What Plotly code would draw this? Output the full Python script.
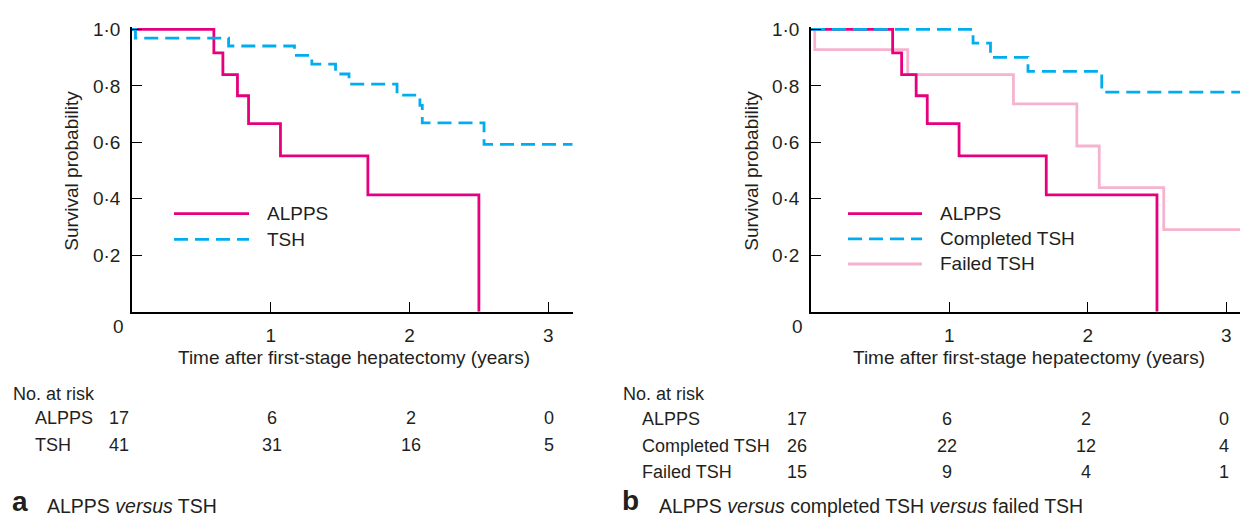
import plotly.graph_objects as go

W, H = 1240, 519

# ---------------- data ----------------
# Panel a
alpps_t = [0, 0.59, 0.655, 0.76, 0.84, 1.07, 1.70, 2.50]
alpps_s = [1.0, 0.917, 0.84, 0.765, 0.666, 0.552, 0.414, 0.0]

tsh_t = [0, 0.025, 0.696, 1.171, 1.296, 1.467, 1.564, 1.91, 2.075, 2.092, 2.537, 3.176]
tsh_s = [1.0, 0.969, 0.941, 0.908, 0.877, 0.842, 0.806, 0.767, 0.731, 0.669, 0.593, 0.593]

# Panel b
comp_t = [0, 1.171, 1.297, 1.568, 2.101, 3.10]
comp_s = [1.0, 0.951, 0.901, 0.851, 0.778, 0.778]

fail_t = [0, 0.027, 0.699, 1.463, 1.921, 2.083, 2.549, 3.10]
fail_s = [1.0, 0.928, 0.84, 0.736, 0.587, 0.44, 0.291, 0.291]

x_ticks = [1, 2, 3]
y_ticks = [0.2, 0.4, 0.6, 0.8, 1.0]
y_ticktext = ["0·2", "0·4", "0·6", "0·8", "1·0"]

risk_times = [0, 1, 2, 3]
risk_a_labels = ["ALPPS", "TSH"]
risk_a = [[17, 6, 2, 0], [41, 31, 16, 5]]
risk_b_labels = ["ALPPS", "Completed TSH", "Failed TSH"]
risk_b = [[17, 6, 2, 0], [26, 22, 12, 4], [15, 9, 4, 1]]

# ---------------- style ----------------
MAGENTA = "#E6007E"
CYAN = "#00AEEF"
PINK = "#F6B3D0"
TXT = "#231F20"
FONT = "Liberation Sans, Arial, sans-serif"
FS = 19
FS_TAB = 18
LW = 2.8
DASH = "14px,7px"


def px(x):
    return x / W


def py(y):
    return 1 - y / H


# plot geometry (pixels)
Y0_PX, Y_TOP_PX = 309.0, 19.8
A_L, A_R = 132.0, 572.7
B_L, B_R = 811.0, 1240.0

fig = go.Figure()


def kmtrace(t, s, color, dash, xa, ya, name):
    fig.add_trace(go.Scatter(
        x=t, y=s, mode="lines", line=dict(color=color, width=LW, dash=dash, shape="hv"),
        xaxis=xa, yaxis=ya, name=name, showlegend=False, hoverinfo="skip"))


kmtrace(alpps_t, alpps_s, MAGENTA, "solid", "x", "y", "ALPPS")
kmtrace(tsh_t, tsh_s, CYAN, DASH, "x", "y", "TSH")
kmtrace(fail_t, fail_s, PINK, "solid", "x2", "y2", "Failed TSH")
kmtrace(alpps_t, alpps_s, MAGENTA, "solid", "x2", "y2", "ALPPS")
kmtrace(comp_t, comp_s, CYAN, DASH, "x2", "y2", "Completed TSH")

axis_common = dict(showline=True, linecolor="black", linewidth=1.5, showgrid=False,
                   zeroline=False, ticks="inside", ticklen=10, tickwidth=1.3, tickcolor="black",
                   tickfont=dict(family=FONT, size=FS, color=TXT), ticklabelstandoff=6)

ydom = [py(Y0_PX), py(Y_TOP_PX)]
fig.update_layout(
    width=W, height=H, autosize=False,
    margin=dict(l=0, r=0, t=0, b=0),
    paper_bgcolor="white", plot_bgcolor="white",
    font=dict(family=FONT, size=FS, color=TXT),
    xaxis=dict(domain=[px(A_L), px(A_R)], range=[0, 3.176], tickvals=x_ticks,
               anchor="y", **axis_common),
    yaxis=dict(domain=ydom, range=[0, 1.01], tickvals=y_ticks, ticktext=y_ticktext,
               anchor="x", **axis_common),
    xaxis2=dict(domain=[px(B_L), px(B_R)], range=[0, 3.10], tickvals=x_ticks,
                anchor="y2", **axis_common),
    yaxis2=dict(domain=ydom, range=[0, 1.01], tickvals=y_ticks, ticktext=y_ticktext,
                anchor="x2", **axis_common),
)

ann = []
shapes = []


def text(x, y, s, size=FS, xanchor="center", yanchor="middle", **kw):
    ann.append(dict(x=px(x), y=py(y), xref="paper", yref="paper", text=s, showarrow=False,
                    xanchor=xanchor, yanchor=yanchor,
                    font=dict(family=FONT, size=size, color=TXT), **kw))


# "0" origin labels
text(118.5, 324, "0")
text(797.0, 324, "0")

# axis titles
text((A_L + A_R) / 2 + 2, 355, "Time after first-stage hepatectomy (years)")
text((B_L + B_R) / 2 + 3, 355, "Time after first-stage hepatectomy (years)")
text(72, 166, "Survival probability", textangle=-90)
text(752, 166, "Survival probability", textangle=-90)


# legends (drawn as sample lines + labels)
def legend_item(x0, x1, y, color, dash, label):
    shapes.append(dict(type="line", xref="paper", yref="paper", x0=px(x0), x1=px(x1),
                       y0=py(y), y1=py(y), line=dict(color=color, width=LW, dash=dash)))
    text(x1 + 16, y, label, xanchor="left")


legend_item(174, 249, 209.5, MAGENTA, "solid", "ALPPS")
legend_item(174, 249, 235.5, CYAN, DASH, "TSH")
legend_item(848, 922, 209.5, MAGENTA, "solid", "ALPPS")
legend_item(848, 922, 235, CYAN, DASH, "Completed TSH")
legend_item(848, 922, 260.5, PINK, "solid", "Failed TSH")

# number at risk tables
text(11, 392, "No. at risk", xanchor="left", size=FS_TAB)
for i, (lab, row) in enumerate(zip(risk_a_labels, risk_a)):
    yy = 417 + i * 26.5
    text(32.5, yy, lab, xanchor="left", size=FS_TAB)
    for t, v in zip(risk_times, row):
        ann.append(dict(x=t, y=py(yy), xref="x", yref="paper", text=str(v), showarrow=False,
                        xanchor="center", yanchor="middle", xshift=(-13 if t == 0 else 1),
                        font=dict(family=FONT, size=FS_TAB, color=TXT)))

text(620.5, 392, "No. at risk", xanchor="left", size=FS_TAB)
for i, (lab, row) in enumerate(zip(risk_b_labels, risk_b)):
    yy = 418 + i * 26.5
    text(640, yy, lab, xanchor="left", size=FS_TAB)
    for t, v in zip(risk_times, row):
        ann.append(dict(x=t, y=py(yy), xref="x2", yref="paper", text=str(v), showarrow=False,
                        xanchor="center", yanchor="middle", xshift=(-14 if t == 0 else -2),
                        font=dict(family=FONT, size=FS_TAB, color=TXT)))

# panel captions
text(10, 519, "<b>a</b>", size=28, xanchor="left", yanchor="bottom")
text(45, 519, "ALPPS <i>versus</i> TSH", xanchor="left", yanchor="bottom", size=19.5)
text(620, 518, "<b>b</b>", size=28, xanchor="left", yanchor="bottom")
text(657, 519, "ALPPS <i>versus</i> completed TSH <i>versus</i> failed TSH",
     xanchor="left", yanchor="bottom", size=19.5)

fig.update_layout(annotations=ann, shapes=shapes)
fig.write_html("out.html", config={"displayModeBar": False},
               post_script="document.body.style.margin='0';document.body.style.overflow='hidden';")
